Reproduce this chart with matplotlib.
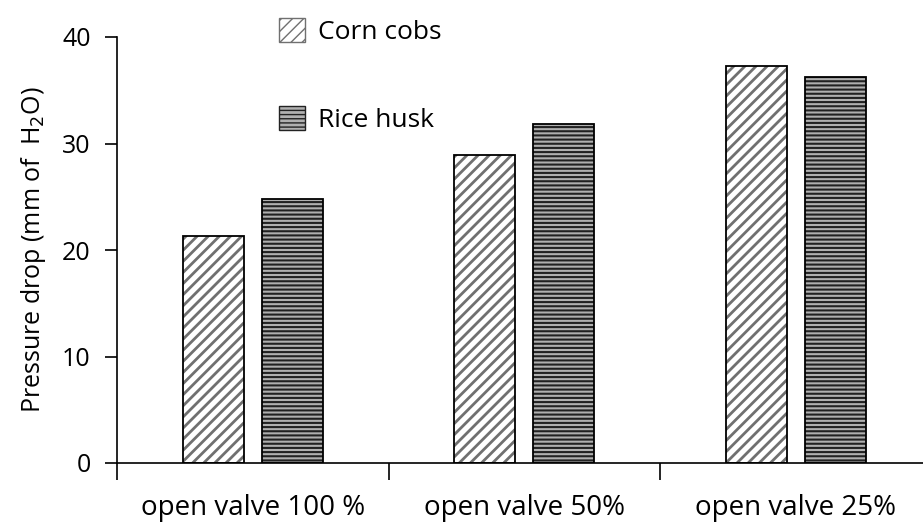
import matplotlib
matplotlib.use("Agg")
import matplotlib.pyplot as plt
import numpy as np
from matplotlib.patches import Patch

plt.rcParams['font.family'] = ['Open Sans', 'DejaVu Sans']

categories = ["open valve 100 %", "open valve 50%", "open valve 25%"]
corn_cobs = [21.3, 28.9, 37.3]
rice_husk = [24.8, 31.8, 36.2]
series_names = ["Corn cobs", "Rice husk"]

fig = plt.figure(figsize=(9.23, 5.25), dpi=100)
ax = fig.add_axes([117 / 923, 62 / 525, 814.5 / 923, 426 / 525])

x = np.arange(len(categories))
w = 0.225
off = 0.145

# hatch drawn in grey for corn cobs, dark for rice husk; outline drawn separately
with plt.rc_context({'hatch.linewidth': 2.0}):
    ax.bar(x - off, corn_cobs, w, color="white", edgecolor="#707070", hatch="///", linewidth=0)
    h1 = Patch(facecolor="white", edgecolor="#707070", hatch="///", linewidth=1)
ax.bar(x - off, corn_cobs, w, color="none", edgecolor="black", linewidth=1.3)
with plt.rc_context({'hatch.linewidth': 1.5}):
    ax.bar(x + off, rice_husk, w, color="#b0b0b0", edgecolor="#222222", hatch="----", linewidth=0)
    h2 = Patch(facecolor="#b0b0b0", edgecolor="#222222", hatch="----", linewidth=1)
ax.bar(x + off, rice_husk, w, color="none", edgecolor="black", linewidth=1.3)

ax.set_xlim(-0.5, 2.5)
ax.set_ylim(0, 40)
ax.set_yticks([0, 10, 20, 30, 40])
ax.set_xticks([-0.5, 0.5, 1.5, 2.5])
ax.set_xticklabels([])
ax.set_xticks(x, minor=True)
ax.set_xticklabels(categories, minor=True, fontsize=20)
ax.tick_params(axis="x", which="minor", length=0, pad=22)
ax.tick_params(axis="x", which="major", length=12, width=1.2, direction="out")
ax.tick_params(axis="y", length=9, width=1.2, direction="out", labelsize=18, pad=10)

for s in ["top", "right"]:
    ax.spines[s].set_visible(False)
ax.spines["left"].set_linewidth(1.2)
ax.spines["bottom"].set_linewidth(1.2)

ax.set_ylabel("Pressure drop (mm of  H$_2$O)", fontsize=18, labelpad=10)

ax.legend([h1, h2], series_names, loc="upper left", bbox_to_anchor=(255 / 923, 1.01),
          bbox_transform=fig.transFigure, frameon=False, fontsize=19,
          handlelength=1.0, handleheight=1.0, labelspacing=2.3, handletextpad=0.5)

fig.savefig("out.png", dpi=100)
